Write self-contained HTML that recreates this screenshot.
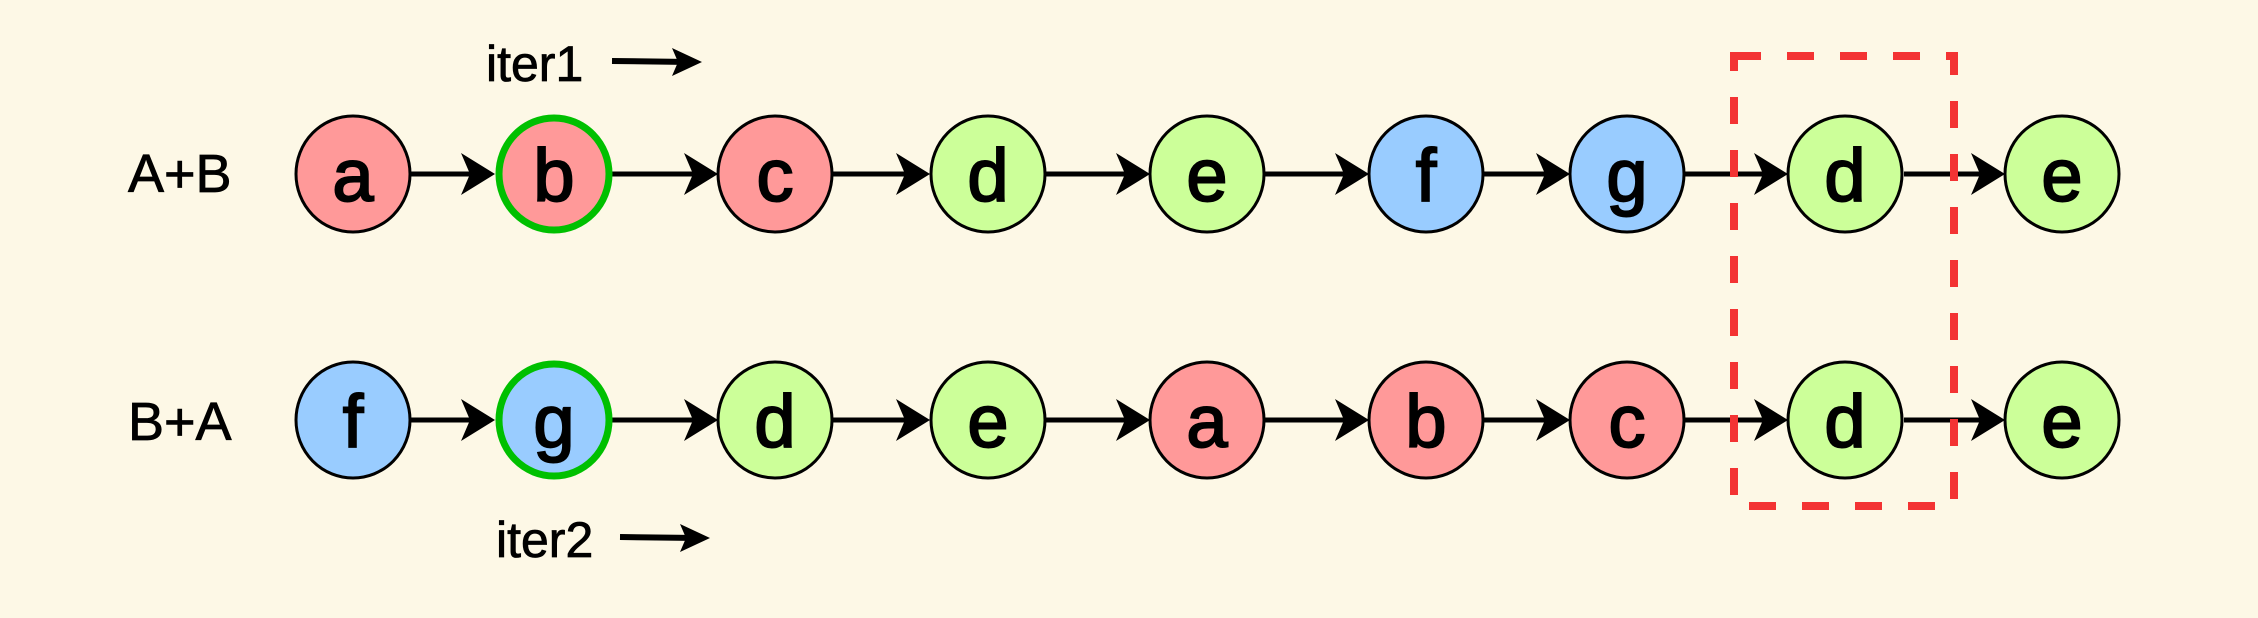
<!DOCTYPE html>
<html><head><style>html,body{margin:0;padding:0;background:#fdf8e6;}svg{display:block}</style></head><body>
<svg width="2258" height="618" viewBox="0 0 2258 618" xmlns="http://www.w3.org/2000/svg">
<rect width="2258" height="618" fill="#fdf8e6"/>
<g font-family="Liberation Sans, sans-serif" fill="#000" stroke="#000" stroke-width="0.8">
<text x="128" y="192" font-size="54">A+B</text>
<text x="128" y="440" font-size="54">B+A</text>
<text x="486" y="81" font-size="50">iter1</text>
<text x="496" y="557" font-size="50">iter2</text>
</g>
<g stroke="#000" stroke-width="6">
<line x1="612" y1="61" x2="690" y2="62"/>
<line x1="620" y1="537" x2="698" y2="538"/>
</g>
<g fill="#000">
<polygon points="702,62 672,48 678,62 672,76"/>
<polygon points="710,538 680,524 686,538 680,552"/>
</g>
<g stroke="#000" stroke-width="5">
<line x1="411" y1="174" x2="480" y2="174"/><line x1="612" y1="174" x2="700" y2="174"/>
<line x1="833" y1="174" x2="915" y2="174"/><line x1="1046" y1="174" x2="1134" y2="174"/>
<line x1="1265" y1="174" x2="1353" y2="174"/><line x1="1484" y1="174" x2="1555" y2="174"/>
<line x1="1685" y1="174" x2="1772" y2="174"/><line x1="1904" y1="174" x2="1990" y2="174"/>
<line x1="411" y1="420" x2="480" y2="420"/><line x1="612" y1="420" x2="700" y2="420"/>
<line x1="833" y1="420" x2="915" y2="420"/><line x1="1046" y1="420" x2="1134" y2="420"/>
<line x1="1265" y1="420" x2="1353" y2="420"/><line x1="1484" y1="420" x2="1555" y2="420"/>
<line x1="1685" y1="420" x2="1772" y2="420"/><line x1="1904" y1="420" x2="1990" y2="420"/>
</g>
<g fill="#000">
<polygon points="495,174 461,153 470,174 461,195"/><polygon points="718,174 684,153 693,174 684,195"/>
<polygon points="930,174 896,153 905,174 896,195"/><polygon points="1150,174 1116,153 1125,174 1116,195"/>
<polygon points="1369,174 1335,153 1344,174 1335,195"/><polygon points="1570,174 1536,153 1545,174 1536,195"/>
<polygon points="1788,174 1754,153 1763,174 1754,195"/><polygon points="2005,174 1971,153 1980,174 1971,195"/>
<polygon points="495,420 461,399 470,420 461,441"/><polygon points="718,420 684,399 693,420 684,441"/>
<polygon points="930,420 896,399 905,420 896,441"/><polygon points="1150,420 1116,399 1125,420 1116,441"/>
<polygon points="1369,420 1335,399 1344,420 1335,441"/><polygon points="1570,420 1536,399 1545,420 1536,441"/>
<polygon points="1788,420 1754,399 1763,420 1754,441"/><polygon points="2005,420 1971,399 1980,420 1971,441"/>
</g>
<g stroke="#000" stroke-width="3">
<ellipse cx="353" cy="174" rx="57" ry="58" fill="#ff9999"/>
<ellipse cx="554" cy="174" rx="55" ry="56" fill="#ff9999" stroke="#00c000" stroke-width="7"/>
<ellipse cx="775" cy="174" rx="57" ry="58" fill="#ff9999"/>
<ellipse cx="988" cy="174" rx="57" ry="58" fill="#ccff99"/>
<ellipse cx="1207" cy="174" rx="57" ry="58" fill="#ccff99"/>
<ellipse cx="1426" cy="174" rx="57" ry="58" fill="#99ccff"/>
<ellipse cx="1627" cy="174" rx="57" ry="58" fill="#99ccff"/>
<ellipse cx="1845" cy="174" rx="57" ry="58" fill="#ccff99"/>
<ellipse cx="2062" cy="174" rx="57" ry="58" fill="#ccff99"/>
<ellipse cx="353" cy="420" rx="57" ry="58" fill="#99ccff"/>
<ellipse cx="554" cy="420" rx="55" ry="56" fill="#99ccff" stroke="#00c000" stroke-width="7"/>
<ellipse cx="775" cy="420" rx="57" ry="58" fill="#ccff99"/>
<ellipse cx="988" cy="420" rx="57" ry="58" fill="#ccff99"/>
<ellipse cx="1207" cy="420" rx="57" ry="58" fill="#ff9999"/>
<ellipse cx="1426" cy="420" rx="57" ry="58" fill="#ff9999"/>
<ellipse cx="1627" cy="420" rx="57" ry="58" fill="#ff9999"/>
<ellipse cx="1845" cy="420" rx="57" ry="58" fill="#ccff99"/>
<ellipse cx="2062" cy="420" rx="57" ry="58" fill="#ccff99"/>
</g>
<g font-family="Liberation Sans, sans-serif" font-size="74" text-anchor="middle" fill="#000" stroke="#000" stroke-width="2">
<text x="353" y="201">a</text><text x="554" y="201">b</text><text x="775" y="201">c</text>
<text x="988" y="201">d</text><text x="1207" y="201">e</text><text x="1426" y="201">f</text>
<text x="1627" y="201">g</text><text x="1845" y="201">d</text><text x="2062" y="201">e</text>
<text x="353" y="447">f</text><text x="554" y="447">g</text><text x="775" y="447">d</text>
<text x="988" y="447">e</text><text x="1207" y="447">a</text><text x="1426" y="447">b</text>
<text x="1627" y="447">c</text><text x="1845" y="447">d</text><text x="2062" y="447">e</text>
</g>
<rect x="1734" y="56" width="220" height="450" fill="none" stroke="#f33333" stroke-width="8" stroke-dasharray="27,26"/>
</svg>
</body></html>
